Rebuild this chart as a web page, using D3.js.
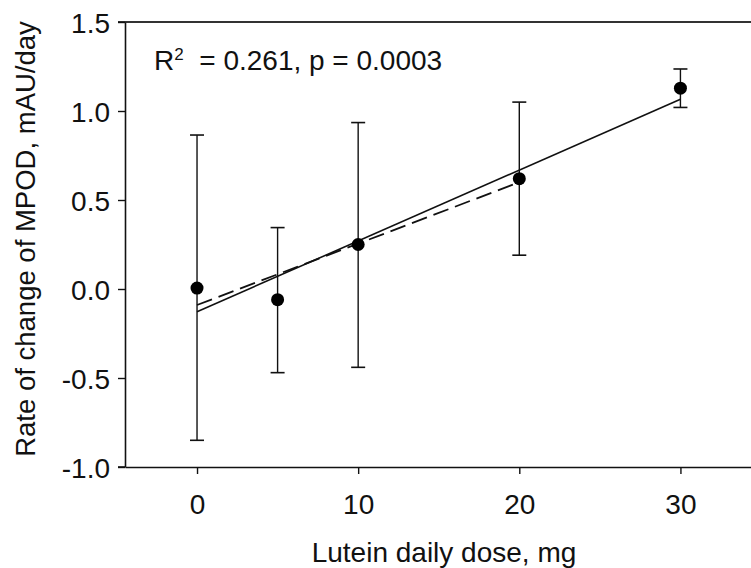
<!doctype html>
<html lang="en">
<head>
<meta charset="UTF-8">
<title>MPOD vs lutein dose</title>
<script src="https://d3js.org/d3.v7.min.js"></script>
<style>
  body { margin: 0; background: #fff; }
  text { font-family: Arial, "Liberation Sans", sans-serif; }
</style>
</head>
<body>
<div id="myDiv"></div>
<script>
// data
let doses = [0, 5, 10, 20, 30];
let rates = [0.005, -0.06, 0.25, 0.62, 1.128];
let errHigh = [0.865, 0.345, 0.935, 1.05, 1.236];
let errLow = [-0.85, -0.47, -0.44, 0.19, 1.02];
let xTicks = [0, 10, 20, 30];
let yTicks = [-1.0, -0.5, 0.0, 0.5, 1.0, 1.5];
// fitted lines: [x0, y0], [x1, y1]
let fitAll = [[0, -0.128], [30, 1.066]];
let fitLow = [[0, -0.09], [20, 0.60]];

let svg = d3.select("#myDiv").append("svg")
  .attr("width", 751)
  .attr("height", 568);

let x = d3.scaleLinear().domain([-4.47, 35]).range([125, 761]);
let y = d3.scaleLinear().domain([-1, 1.5]).range([467, 22]);

// top frame line
svg.append("line")
  .attr("x1", 118).attr("x2", 751)
  .attr("y1", y(1.5)).attr("y2", y(1.5))
  .attr("stroke", "#333").attr("stroke-width", 2);

// axes
let xAxis = svg.append("g")
  .attr("transform", "translate(0," + y(-1) + ")")
  .call(d3.axisBottom(x).tickValues(xTicks).tickSize(7).tickSizeOuter(0));
let yAxis = svg.append("g")
  .attr("transform", "translate(" + x(-4.47) + ",0)")
  .call(d3.axisLeft(y).tickValues(yTicks).tickSize(7).tickSizeOuter(0)
    .tickFormat(function(d) { return d.toFixed(1); }));

[xAxis, yAxis].forEach(function(g) {
  g.attr("font-size", null).attr("font-family", null);
  g.select(".domain").attr("stroke", "#111").attr("stroke-width", 1.6);
  g.selectAll(".tick line").attr("stroke", "#111").attr("stroke-width", 1.4);
  g.selectAll(".tick text").attr("fill", "#111").style("font-size", "28px");
});
xAxis.selectAll(".tick text").attr("y", 47).attr("dy", 0);
yAxis.selectAll(".tick text").attr("x", -15).attr("dy", "0.36em");
// y axis extends a bit past the bottom-left corner
yAxis.append("line")
  .attr("x1", -7).attr("x2", 0).attr("y1", y(-1)).attr("y2", y(-1))
  .attr("stroke", "#111").attr("stroke-width", 1.6);

// regression lines
let line = d3.line().x(function(d) { return x(d[0]); }).y(function(d) { return y(d[1]); });
svg.append("path").attr("d", line(fitAll))
  .attr("fill", "none").attr("stroke", "#111").attr("stroke-width", 1.6);
svg.append("path").attr("d", line(fitLow))
  .attr("fill", "none").attr("stroke", "#111").attr("stroke-width", 1.8)
  .attr("stroke-dasharray", "16,7");

// error bars
let bars = svg.selectAll(".err").data(doses).enter().append("g");
bars.append("line")
  .attr("x1", function(d) { return x(d); }).attr("x2", function(d) { return x(d); })
  .attr("y1", function(d, i) { return y(errHigh[i]); })
  .attr("y2", function(d, i) { return y(errLow[i]); })
  .attr("stroke", "#111").attr("stroke-width", 1.4);
bars.append("line")
  .attr("x1", function(d) { return x(d) - 7; }).attr("x2", function(d) { return x(d) + 7; })
  .attr("y1", function(d, i) { return y(errHigh[i]); })
  .attr("y2", function(d, i) { return y(errHigh[i]); })
  .attr("stroke", "#111").attr("stroke-width", 1.6);
bars.append("line")
  .attr("x1", function(d) { return x(d) - 7; }).attr("x2", function(d) { return x(d) + 7; })
  .attr("y1", function(d, i) { return y(errLow[i]); })
  .attr("y2", function(d, i) { return y(errLow[i]); })
  .attr("stroke", "#111").attr("stroke-width", 1.6);

// points
svg.selectAll("circle").data(doses).enter().append("circle")
  .attr("cx", function(d) { return x(d); })
  .attr("cy", function(d, i) { return y(rates[i]); })
  .attr("r", 6.5)
  .attr("fill", "#000");

// annotation
let note = svg.append("text").attr("x", 154).attr("y", 70)
  .style("font-size", "28px").attr("fill", "#111")
  .style("white-space", "pre");
note.append("tspan").text("R");
note.append("tspan").style("font-size", "17px").attr("dy", "-10").text("2");
note.append("tspan").attr("dy", "10").text("  = 0.261, p = 0.0003");

// axis titles
svg.append("text")
  .attr("x", 444).attr("y", 562)
  .attr("text-anchor", "middle")
  .style("font-size", "28px").attr("fill", "#111")
  .text("Lutein daily dose, mg");
svg.append("text")
  .attr("transform", "translate(35,239) rotate(-90)")
  .attr("text-anchor", "middle")
  .style("font-size", "27.5px").attr("fill", "#111")
  .text("Rate of change of MPOD, mAU/day");
</script>
</body>
</html>
